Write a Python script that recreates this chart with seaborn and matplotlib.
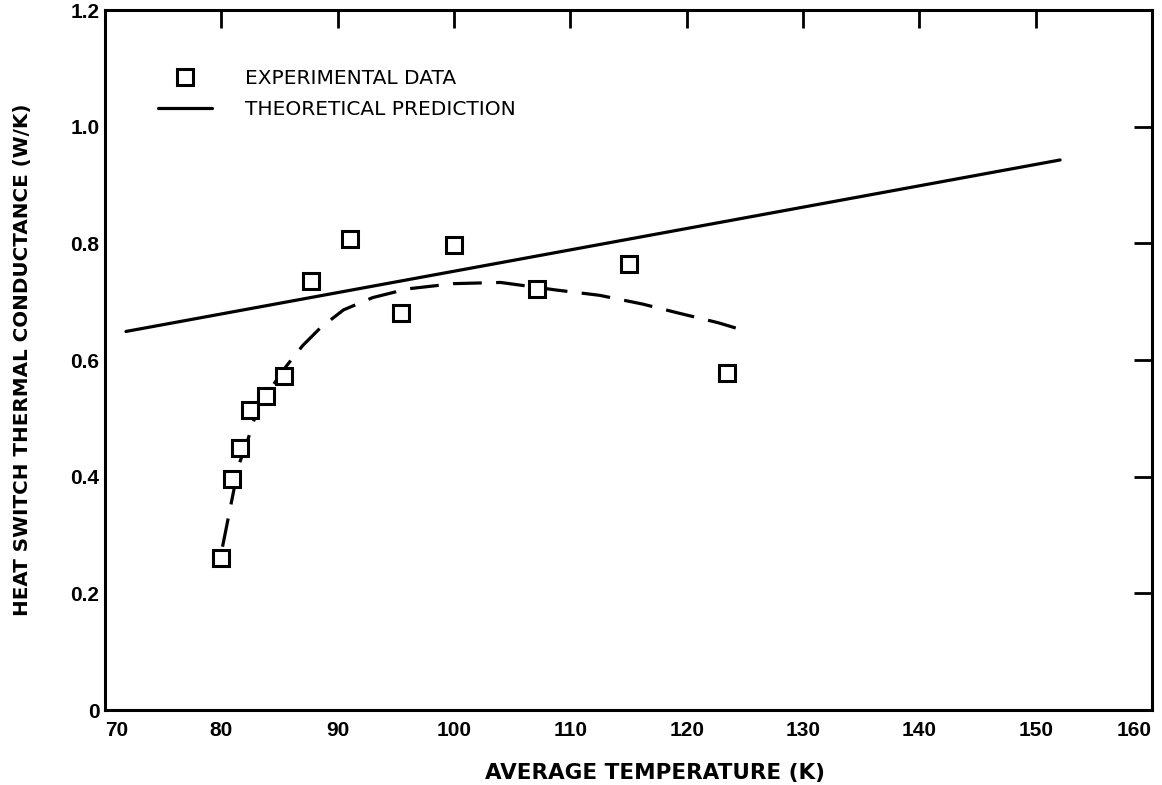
import matplotlib
matplotlib.use("Agg")
import matplotlib.pyplot as plt
import seaborn as sns

# ---- data ----
exp_temp = [80.0, 80.9, 81.6, 82.5, 83.8, 85.4, 87.7, 91.1, 95.4, 100.0, 107.1, 115.0, 123.5]
exp_cond = [0.261, 0.396, 0.449, 0.515, 0.539, 0.572, 0.736, 0.807, 0.681, 0.798, 0.722, 0.765, 0.578]

theory_temp = [71.8, 152.1]
theory_cond = [0.649, 0.943]

fit_temp = [80.1, 80.4, 80.8, 81.5, 82.3, 83.2, 84.3, 85.6, 87.0, 88.5, 90.5,
            93.0, 96.0, 100.0, 104.0, 108.8, 112.5, 116.2, 119.2, 122.7, 125.2]
fit_cond = [0.28, 0.31, 0.35, 0.42, 0.465, 0.522, 0.553, 0.59, 0.625, 0.655, 0.686,
            0.707, 0.722, 0.731, 0.733, 0.72, 0.711, 0.696, 0.681, 0.664, 0.649]

x_ticks = [70, 80, 90, 100, 110, 120, 130, 140, 150, 160]
y_ticks = [0, 0.2, 0.4, 0.6, 0.8, 1.0, 1.2]
y_tick_labels = ["0", "0.2", "0.4", "0.6", "0.8", "1.0", "1.2"]

x_label = "AVERAGE TEMPERATURE (K)"
y_label = "HEAT SWITCH THERMAL CONDUCTANCE (W/K)"
legend_labels = ["EXPERIMENTAL DATA", "THEORETICAL PREDICTION"]

# ---- style ----
sns.set_style("white")
plt.rcParams["font.family"] = ["DejaVu Sans"]
plt.rcParams["text.color"] = "black"
plt.rcParams["axes.labelcolor"] = "black"
plt.rcParams["xtick.color"] = "black"
plt.rcParams["ytick.color"] = "black"

fig = plt.figure(figsize=(11.62, 7.85), dpi=100)
ax = fig.add_axes([0.0904, 0.0955, 0.9010, 0.8917])

sns.lineplot(x=theory_temp, y=theory_cond, ax=ax, color="black", linewidth=2.3,
             sort=False, estimator=None)
sns.lineplot(x=fit_temp, y=fit_cond, ax=ax, color="black", linewidth=2.3,
             linestyle=(0, (9, 4.5)), sort=False, estimator=None)
sns.lineplot(x=exp_temp, y=exp_cond, ax=ax, color="black", linestyle="",
             marker="s", markersize=12, markerfacecolor="white",
             markeredgecolor="black", markeredgewidth=2.2,
             sort=False, estimator=None)

lines = ax.get_lines()
h_theory, h_exp = lines[0], lines[2]

ax.set_xlim(70, 160)
ax.set_ylim(0, 1.2)
ax.set_xticks(x_ticks)
ax.set_xticklabels([str(t) for t in x_ticks])
ax.set_yticks(y_ticks)
ax.set_yticklabels(y_tick_labels)

tick_family = ["Liberation Sans", "DejaVu Sans"]
for lab in ax.get_xticklabels() + ax.get_yticklabels():
    lab.set_fontfamily(tick_family)
    lab.set_fontweight("bold")
    lab.set_fontsize(15)
    lab.set_color("black")
xt = ax.get_xticklabels()
xt[0].set_horizontalalignment("left")
xt[-1].set_horizontalalignment("right")

ax.tick_params(axis="both", direction="in", length=13, width=2,
               top=True, right=True, colors="black")
ax.tick_params(axis="x", pad=8)
ax.tick_params(axis="y", pad=4)

for sp in ax.spines.values():
    sp.set_visible(True)
    sp.set_linewidth(2.2)
    sp.set_color("black")

ax.set_xlabel(x_label, fontsize=15.5, fontweight="bold", va="top", color="black")
ax.set_ylabel(y_label, fontsize=14.3, fontweight="bold", color="black")
ax.xaxis.set_label_coords(0.525, -0.075)
ax.yaxis.set_label_coords(-0.07, 0.5)

leg = ax.legend(handles=[h_exp, h_theory], labels=legend_labels, loc="upper left",
                bbox_to_anchor=(0.0506, 0.916), frameon=False, borderaxespad=0,
                borderpad=0, handlelength=2.7, handletextpad=1.6, labelspacing=0.6,
                prop=dict(size=14.5))
for t in leg.get_texts():
    t.set_color("black")

fig.savefig("out.png", dpi=100)
